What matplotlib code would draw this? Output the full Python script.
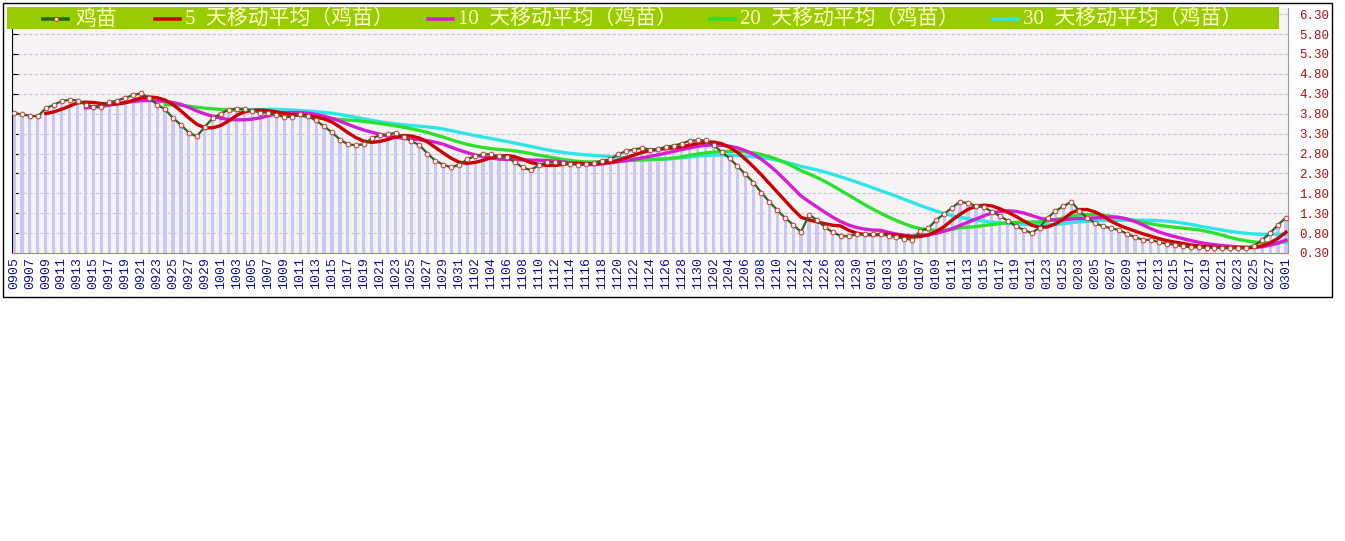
import matplotlib
matplotlib.use('Agg')
import matplotlib.pyplot as plt
import pandas as pd
from matplotlib.patches import Rectangle
from matplotlib.lines import Line2D

W, H = 1345, 541

# 鸡苗 daily price, one value per bar
prices = [
    3.82, 3.78, 3.75, 3.73, 3.94, 4.02, 4.12, 4.15, 4.13, 4.03,
    3.98, 3.98, 4.09, 4.13, 4.20, 4.27, 4.31, 4.20, 4.03, 3.91,
    3.69, 3.52, 3.32, 3.23, 3.47, 3.69, 3.80, 3.90, 3.93, 3.92,
    3.88, 3.83, 3.83, 3.77, 3.72, 3.72, 3.78, 3.73, 3.63, 3.48,
    3.33, 3.15, 3.03, 3.01, 3.03, 3.18, 3.26, 3.28, 3.32, 3.22,
    3.11, 3.01, 2.80, 2.62, 2.52, 2.45, 2.52, 2.65, 2.74, 2.78,
    2.78, 2.73, 2.72, 2.58, 2.45, 2.38, 2.51, 2.58, 2.58, 2.57,
    2.53, 2.52, 2.53, 2.57, 2.62, 2.65, 2.78, 2.86, 2.90, 2.94,
    2.90, 2.91, 2.97, 3.00, 3.05, 3.12, 3.13, 3.13, 3.01, 2.84,
    2.68, 2.48, 2.28, 2.07, 1.82, 1.59, 1.38, 1.18, 1.01, 0.83,
    1.26, 1.13, 0.95, 0.82, 0.73, 0.72, 0.77, 0.78, 0.77, 0.78,
    0.73, 0.70, 0.66, 0.63, 0.86, 0.92, 1.13, 1.28, 1.44, 1.59,
    1.55, 1.49, 1.45, 1.34, 1.23, 1.11, 0.98, 0.88, 0.80, 0.94,
    1.18, 1.36, 1.47, 1.59, 1.36, 1.18, 1.05, 0.97, 0.92, 0.88,
    0.78, 0.70, 0.63, 0.63, 0.57, 0.53, 0.51, 0.47, 0.44, 0.44,
    0.43, 0.43, 0.43, 0.43, 0.43, 0.43, 0.48, 0.63, 0.80, 1.01,
    1.19,
]

# labels shown on every second bar
date_labels = [
    '0905', '0907', '0909', '0911', '0913', '0915', '0917', '0919', '0921',
    '0923', '0925', '0927', '0929', '1001', '1003', '1005', '1007', '1009',
    '1011', '1013', '1015', '1017', '1019', '1021', '1023', '1025', '1027',
    '1029', '1031', '1102', '1104', '1106', '1108', '1110', '1112', '1114',
    '1116', '1118', '1120', '1122', '1124', '1126', '1128', '1130', '1202',
    '1204', '1206', '1208', '1210', '1212', '1224', '1226', '1228', '1230',
    '0101', '0103', '0105', '0107', '0109', '0111', '0113', '0115', '0117',
    '0119', '0121', '0123', '0125', '0203', '0205', '0207', '0209', '0211',
    '0213', '0215', '0217', '0219', '0221', '0223', '0225', '0227', '0301',
]

ma_windows = [5, 10, 20, 30]
ma_colors = ['#CC0000', '#D41ED4', '#2EE02E', '#2EE6EA']
y_ticks = [0.30, 0.80, 1.30, 1.80, 2.30, 2.80, 3.30, 3.80, 4.30, 4.80, 5.30, 5.80, 6.30]

main_color = '#1F6B1F'
legend_font = ['Liberation Serif', 'Noto Sans CJK SC']


def px_x(x):
    return x / W


def px_y(y):
    return 1 - y / H


fig = plt.figure(figsize=(W / 100, H / 100), dpi=100)
fig.patch.set_facecolor('white')

left, right, top, bottom = 12, 1288, 8, 253
ax = fig.add_axes([px_x(left), px_y(bottom), (right - left) / W, (bottom - top) / H])
ax.set_facecolor('#F5F3F3')

n = len(prices)
xs = list(range(n))
s = pd.Series(prices)

ax.bar(xs, s - 0.30, bottom=0.30, width=0.4, color='#C8C8F2', zorder=1)

for win, col in reversed(list(zip(ma_windows, ma_colors))):
    ax.plot(xs, s.rolling(win).mean(), color=col, lw=2.4, zorder=3)

ax.plot(xs, prices, color=main_color, lw=1.6, marker='o', ms=3.4,
        mfc='#FFF4F4', mec='#CC3333', mew=0.7, zorder=4)

ax.set_xlim(-0.25, n - 1 + 0.25)
ax.set_ylim(0.30, 0.30 + (bottom - top) / 39.8)

ax.set_yticks(y_ticks)
ax.set_yticklabels(['%.2f' % v for v in y_ticks])
ax.yaxis.grid(True, color='#C9C6E0', ls=(0, (3, 2)), lw=0.8)
ax.set_axisbelow(True)
ax.tick_params(axis='y', left=True, right=False, labelleft=False, labelright=True,
               direction='in', length=4, color='black', pad=8,
               labelcolor='#AA1111', labelsize=9)
for lab in ax.get_yticklabels():
    lab.set_family('Liberation Mono')

ax.set_xticks(xs)
ax.set_xticklabels([date_labels[i // 2] if i % 2 == 0 else '' for i in xs],
                   rotation=90, fontsize=9.5, color='#10108A', family='Liberation Mono')
ax.tick_params(axis='x', direction='in', length=4, color='#A01010', pad=3)

ax.spines['left'].set_color('black')
ax.spines['bottom'].set_color('#E07070')
ax.spines['right'].set_color('#999999')
ax.spines['top'].set_visible(False)

# legend band
fig.patches.append(Rectangle((px_x(7), px_y(29)), (1279 - 7) / W, 22 / H,
                             transform=fig.transFigure, facecolor='#99CC00',
                             edgecolor='none', zorder=1))

entries = [('鸡苗', main_color, 43, 75),
           ('5 天移动平均（鸡苗）', ma_colors[0], 155, 185),
           ('10 天移动平均（鸡苗）', ma_colors[1], 428, 458),
           ('20 天移动平均（鸡苗）', ma_colors[2], 710, 740),
           ('30 天移动平均（鸡苗）', ma_colors[3], 993, 1023)]
for i, (label, col, lx, tx) in enumerate(entries):
    fig.lines.append(Line2D([px_x(lx), px_x(lx + 25)], [px_y(19), px_y(19)],
                            transform=fig.transFigure, color=col, lw=2.6, zorder=2))
    if i == 0:
        fig.lines.append(Line2D([px_x(lx + 12.5)], [px_y(19)], transform=fig.transFigure,
                                marker='o', ms=3, mfc='#FFEE66', mec='#CC3333',
                                mew=0.6, zorder=2))
    fig.text(px_x(tx), px_y(20), label.replace(' ', '  '), color='#FFFFC8',
             fontsize=15, family=legend_font, va='center', ha='left', zorder=3)

# outer frame
fig.patches.append(Rectangle((px_x(3), px_y(297)), (1332 - 3) / W, (297 - 3) / H,
                             transform=fig.transFigure, fill=False,
                             edgecolor='black', lw=1, zorder=5))

fig.savefig('out.png', dpi=100)
